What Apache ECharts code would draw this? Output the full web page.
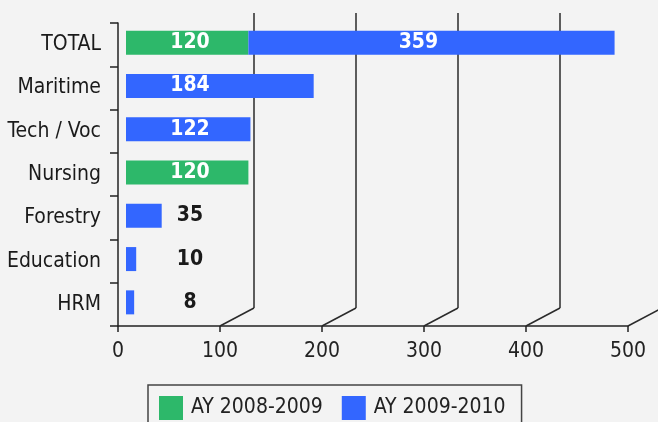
<!DOCTYPE html>
<html>
<head>
<meta charset="utf-8">
<script src="https://cdn.jsdelivr.net/npm/echarts@6/dist/echarts.min.js"></script>
<style>
html,body{margin:0;padding:0;background:#f3f3f3;}
#c{width:658px;height:422px;}
</style>
</head>
<body>
<div id="c"></div>
<script>
var categories = ['TOTAL', 'Maritime', 'Tech / Voc', 'Nursing', 'Forestry', 'Education', 'HRM'];
var ay0809 = [120, null, null, 120, null, null, null];
var ay0910 = [359, 184, 122, null, 35, 10, 8];
var xTicks = [0, 100, 200, 300, 400, 500];
var seriesNames = ['AY 2008-2009', 'AY 2009-2010'];

var FONT = '"DejaVu Sans Condensed", "Liberation Sans Narrow", sans-serif';
var GREEN = '#2db86a', BLUE = '#3366ff';

function labelFor(v, i, isStackTop) {
  var pos = [64, '50%'];
  if (isStackTop && ay0809[i] != null) pos = [170, '50%'];
  return {
    value: v,
    label: {
      show: true,
      position: pos,
      align: 'center',
      verticalAlign: 'middle',
      color: v < 60 ? '#1a1a1a' : '#ffffff'
    }
  };
}

var chart = echarts.init(document.getElementById('c'), null, {renderer: 'canvas'});
chart.setOption({
  backgroundColor: '#f3f3f3',
  animation: false,
  textStyle: {fontFamily: FONT},
  legend: {
    left: 148, top: 385,
    padding: [11, 16, 11, 11],
    itemWidth: 24, itemHeight: 24, itemGap: 19,
    borderColor: '#444', borderWidth: 1.5,
    icon: 'rect',
    textStyle: {fontFamily: FONT, fontSize: 21, color: '#222', padding: [0, 0, 0, 3]},
    data: seriesNames
  },
  grid: [
    {left: 118, top: 23, width: 510, height: 303, outerBoundsMode: 'none', containLabel: false},
    {left: 152, top: 13, width: 510, height: 295, outerBoundsMode: 'none', containLabel: false},
    {left: 126, top: 21, width: 510, height: 303, outerBoundsMode: 'none', containLabel: false}
  ],
  xAxis: [
    {
      gridIndex: 0, type: 'value', min: xTicks[0], max: xTicks[xTicks.length - 1], interval: 100,
      axisLine: {show: true, lineStyle: {color: '#222', width: 1.5}},
      axisTick: {show: true, length: 6, lineStyle: {color: '#222', width: 1.5}},
      splitLine: {show: false},
      axisLabel: {fontFamily: FONT, fontSize: 21, color: '#222', margin: 15}
    },
    {
      gridIndex: 1, type: 'value', min: 0, max: 500, interval: 100,
      axisLine: {show: false}, axisTick: {show: false}, axisLabel: {show: false},
      splitLine: {show: true, showMinLine: false, showMaxLine: false, lineStyle: {color: '#2a2a2a', width: 1.5}}
    },
    {
      gridIndex: 2, type: 'value', min: 0, max: 500, show: false
    }
  ],
  yAxis: [
    {
      gridIndex: 0, type: 'category', data: categories, inverse: true,
      axisLine: {show: true, lineStyle: {color: '#222', width: 1.5}},
      axisTick: {show: true, length: 8, lineStyle: {color: '#222', width: 1.5}},
      axisLabel: {fontFamily: FONT, fontSize: 21, color: '#1a1a1a', margin: 17, padding: [0, 0, 5, 0]}
    },
    {gridIndex: 1, type: 'category', data: categories, inverse: true, show: false},
    {gridIndex: 2, type: 'category', data: categories, inverse: true, show: false}
  ],
  series: [
    {
      type: 'custom',
      xAxisIndex: 0, yAxisIndex: 0,
      silent: true,
      encode: {x: 0},
      data: xTicks.slice(1).map(function (t) { return [t]; }),
      renderItem: function (params, api) {
        var p = api.coord([api.value(0), 0]);
        var cs = params.coordSys;
        var yb = cs.y + cs.height;
        return {
          type: 'line',
          shape: {x1: p[0], y1: yb, x2: p[0] + 34, y2: yb - 18},
          style: {stroke: '#2a2a2a', lineWidth: 1.5}
        };
      },
      z: 1
    },
    {
      name: seriesNames[0], type: 'bar', stack: 'a',
      xAxisIndex: 2, yAxisIndex: 2,
      barWidth: 24,
      itemStyle: {color: GREEN},
      label: {fontFamily: FONT, fontSize: 21, fontWeight: 'bold'},
      data: ay0809.map(function (v, i) { return v == null ? null : labelFor(v, i, false); }),
      z: 3
    },
    {
      name: seriesNames[1], type: 'bar', stack: 'a',
      xAxisIndex: 2, yAxisIndex: 2,
      barWidth: 24,
      itemStyle: {color: BLUE},
      label: {fontFamily: FONT, fontSize: 21, fontWeight: 'bold'},
      data: ay0910.map(function (v, i) { return v == null ? null : labelFor(v, i, true); }),
      z: 3
    }
  ]
});
</script>
</body>
</html>
